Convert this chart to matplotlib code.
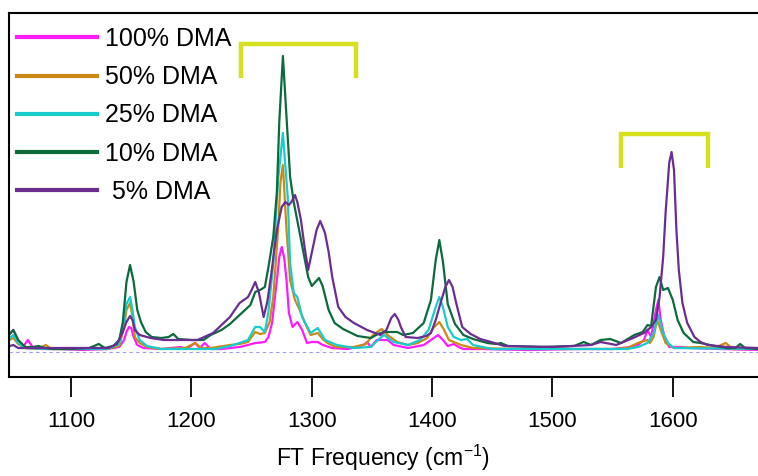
import numpy as np
import matplotlib
matplotlib.use('Agg')
import matplotlib.pyplot as plt

plt.rcParams['font.family'] = ['Liberation Sans', 'DejaVu Sans']

#-------- data (cm-1, arbitrary intensity) --------
x_100 = [1049,1052,1056,1060,1064,1068,1075,1090,1110,1130,1140,1144,1146,1148,1150,1152,1155,1160,1175,1191,
         1196,1203,1207,1211,1216,1225,1240,1247,1253,1261,1264,1267,1271,1273,1275,1277,1279,1281,1284,1288,
         1292,1296,1300,1305,1309,1317,1330,1343,1346,1349,1354,1363,1368,1380,1393,1399,1405,1409,1413,1418,
         1422,1426,1440,1480,1520,1550,1565,1571,1576,1579,1582,1586,1588,1590,1593,1597,1607,1613,1640,1671]
y_100 = [18,22,12,5,12,5,3,3,2,3,5,12,20,25,24,15,7,4,3,5,
         3,9,4,9,3,3,5,7,9,10,15,29,72,95,105,95,72,39,25,30,
         22,9,10,10,7,4,3,7,10,5,12,12,7,4,7,12,17,12,6,8,
         5,3,3,2,3,3,5,7,12,22,15,42,52,32,15,5,5,4,3,2]

x_50 = [1049,1052,1056,1062,1072,1079,1084,1100,1130,1140,1144,1146,1149,1151,1153,1157,1163,1175,1195,1203,
        1208,1216,1232,1240,1247,1253,1257,1261,1265,1268,1272,1274,1276,1279,1282,1286,1290,1294,1299,1305,
        1309,1313,1320,1335,1345,1351,1358,1363,1371,1380,1388,1396,1401,1406,1410,1414,1420,1424,1434,1470,
        1520,1550,1562,1571,1579,1581,1584,1587,1590,1594,1601,1623,1634,1644,1650,1671]
y_50 = [12,14,8,4,3,7,3,3,3,6,25,42,49,35,15,9,5,3,4,9,
        4,4,7,8,10,20,18,19,30,55,122,170,187,122,72,52,42,30,17,19,
        13,9,5,5,8,17,23,17,10,7,9,14,24,30,22,12,9,7,4,3,
        3,3,4,9,12,9,15,32,22,9,4,5,4,9,3,3]

x_25 = [1049,1052,1056,1062,1080,1100,1130,1140,1144,1146,1149,1151,1153,1157,1163,1175,1220,1232,1240,1247,
        1253,1257,1261,1264,1268,1272,1276,1280,1282,1285,1288,1292,1299,1305,1311,1321,1335,1349,1355,1360,
        1368,1380,1390,1397,1403,1406,1409,1413,1418,1424,1429,1434,1450,1500,1562,1571,1579,1584,1588,1592,
        1596,1601,1671]
y_25 = [14,17,9,4,3,3,3,8,32,48,55,42,25,12,6,3,3,6,9,12,
        25,25,20,40,89,172,219,155,89,59,55,35,19,24,12,7,4,5,12,17,
        10,7,12,22,45,55,45,25,15,12,13,7,3,3,3,5,9,19,37,19,
        9,4,3]

x_10 = [1049,1052,1056,1062,1068,1073,1078,1085,1100,1115,1123,1128,1135,1140,1143,1146,1149,1152,1155,1158,
        1162,1167,1175,1181,1185,1189,1200,1210,1216,1225,1232,1240,1249,1253,1257,1261,1264,1268,1271,1273,
        1276,1279,1282,1285,1289,1293,1297,1300,1303,1306,1309,1314,1319,1326,1338,1349,1355,1360,1371,1376,
        1384,1393,1399,1403,1406,1409,1413,1419,1426,1434,1446,1453,1457,1463,1490,1518,1526,1532,1540,1548,
        1557,1568,1575,1579,1582,1586,1589,1592,1596,1600,1604,1609,1617,1623,1635,1645,1652,1656,1660,1671]
y_10 = [18,22,12,5,5,6,4,3,3,4,8,4,6,12,30,70,87,70,42,30,
        20,15,14,15,18,13,12,12,17,22,28,37,47,60,62,65,85,115,160,230,
        296,235,175,150,125,100,75,66,70,74,66,42,29,23,16,14,18,20,20,17,
        19,29,52,92,112,90,48,28,17,13,9,8,9,6,5,6,10,7,12,13,
        9,17,20,27,26,65,75,62,64,52,32,19,10,9,6,4,4,8,4,3]

x_5 = [1049,1052,1056,1100,1131,1138,1143,1146,1149,1151,1153,1157,1166,1177,1205,1218,1232,1240,1247,1250,
       1253,1256,1260,1263,1266,1271,1275,1278,1281,1283,1286,1288,1291,1294,1297,1301,1304,1307,1311,1314,
       1317,1322,1328,1335,1346,1357,1362,1366,1369,1372,1374,1378,1388,1395,1399,1403,1407,1411,1414,1417,
       1420,1425,1432,1440,1449,1460,1500,1532,1540,1553,1567,1576,1582,1586,1589,1592,1594,1597,1599,1601,
       1603,1605,1608,1612,1618,1623,1629,1645,1671]
y_5 = [6,7,4,4,4,8,20,30,36,32,22,17,14,12,12,19,35,49,55,62,
       70,60,35,50,75,122,145,150,147,150,157,150,132,105,82,105,122,131,119,100,
       75,45,35,29,22,17,22,34,38,32,25,15,14,16,19,32,49,65,72,65,
       49,25,18,13,10,6,5,7,10,7,14,19,25,32,55,95,139,189,200,182,
       122,82,49,29,15,10,7,5,4]

labels = ['100% DMA', '50% DMA', '25% DMA', '10% DMA', ' 5% DMA']
colors = ['#ff1aff', '#cc8a14', '#17cccc', '#0b6b3c', '#6b2d91']

# brackets over the two band groups (x-range, top, leg bottom)
brackets = [(1241.5, 1336.5, 308, 274), (1557, 1629, 218, 184)]

#------------------------------------------------------------------------
fig = plt.figure(figsize=(7.58, 4.76), dpi=100)
ax = fig.add_axes([9/758, 99/476, 1 - 9/758, 364/476])

series = [(x_100, y_100), (x_50, y_50), (x_25, y_25), (x_10, y_10), (x_5, y_5)]
for (xs, ys), lab, col in zip(series, labels, colors):
    ax.plot(xs, ys, color=col, lw=1.6, label=lab)

ax.axhline(0, color='#9a9aff', lw=0.8, ls=(0, (3, 3)), zorder=0)

for x0, x1, top, bot in brackets:
    ax.plot([x0, x0, x1, x1], [bot, top, top, bot], color='#d6e01e', lw=3.2,
            solid_joinstyle='miter', solid_capstyle='butt')

ax.set_xlim(1048.4, 1670.8)
ax.set_ylim(-25, 339)
ax.set_xticks(np.arange(1100, 1601, 100))
ax.set_yticks([])
ax.tick_params(axis='x', direction='out', length=14.5, width=1.3, pad=10, labelsize=16)
for s in ['left', 'top', 'bottom']:
    ax.spines[s].set_linewidth(1.5)
ax.spines['right'].set_visible(False)
ax.set_xlabel('FT Frequency (cm$\\mathregular{^{-1}}$)', fontsize=16.5, labelpad=8)

leg = ax.legend(loc='upper left', bbox_to_anchor=(17/758, 1 - 27/476), bbox_transform=fig.transFigure,
                frameon=False, fontsize=18, handlelength=3.2, handletextpad=0.32,
                labelspacing=0.57, borderpad=0, borderaxespad=0)
for line in leg.get_lines():
    line.set_linewidth(3)

plt.savefig('out.png', dpi=100)
